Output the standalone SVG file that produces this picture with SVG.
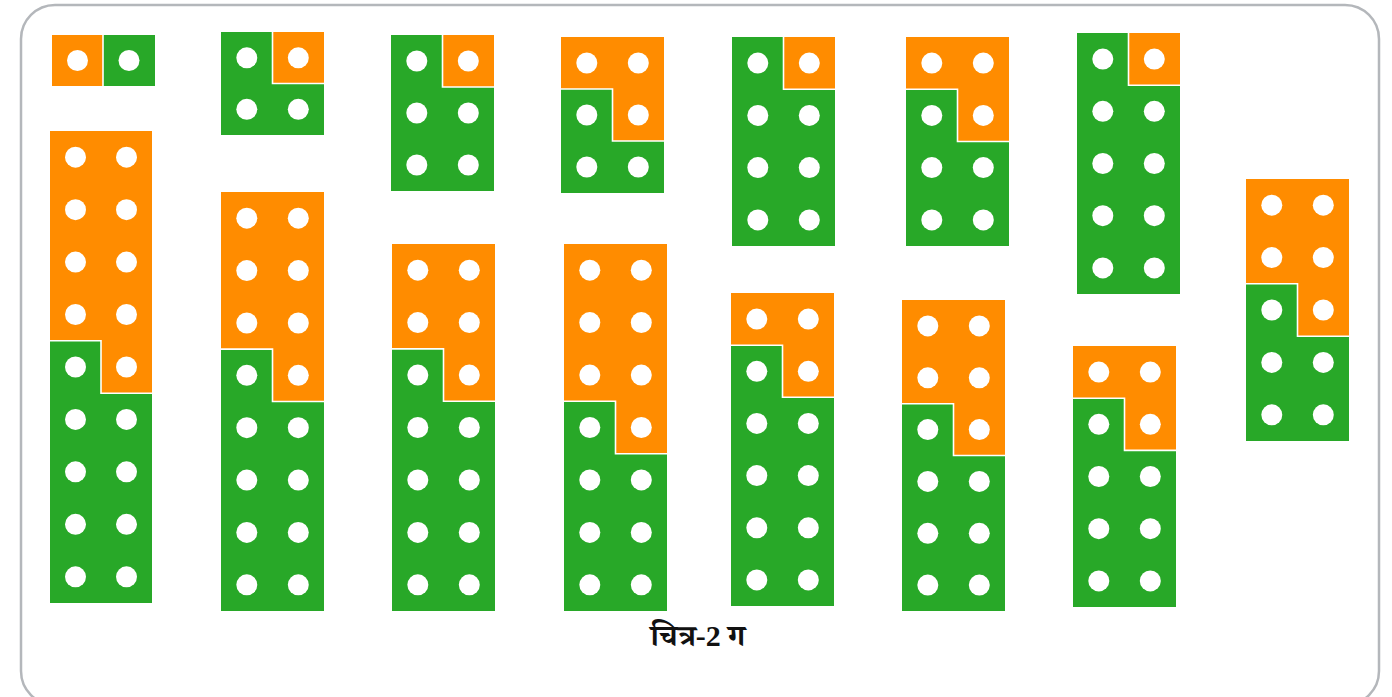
<svg xmlns="http://www.w3.org/2000/svg" width="1392" height="697" viewBox="0 0 1392 697">
<style>
.o{fill:#FF8C00}
.g{fill:#28A828}
.s{fill:none;stroke:#ffffff;stroke-width:1.6}
.d{fill:#ffffff}
.frame{fill:none;stroke:#b4b7bb;stroke-width:2.5}
.cap{font-family:"Liberation Serif","Noto Serif Devanagari","Noto Sans Devanagari","Noto Sans",serif;font-weight:bold;font-size:30px;fill:#111}
.num{font-family:"Liberation Serif",serif}
</style>
<rect width="1392" height="697" fill="#ffffff"/>
<rect class="frame" x="21" y="5" width="1358" height="700" rx="34"/>

<g id="p1">
<rect class="o" x="52" y="35" width="51" height="51"/>
<rect class="g" x="103" y="35" width="52" height="51"/>
<path class="s" d="M103,35 V86"/>
<circle class="d" cx="77.5" cy="60.5" r="10.5"/><circle class="d" cx="129" cy="60.5" r="10.5"/>
</g>

<g id="p2">
<path class="o" d="M272.5,32 H324 V83.5 H272.5Z"/>
<path class="g" d="M221,32 H272.5 V83.5 H324 V135 H221Z"/>
<path class="s" d="M272.5,32 V83.5 H324"/>
<circle class="d" cx="246.8" cy="57.8" r="10.5"/><circle class="d" cx="298.3" cy="57.8" r="10.5"/>
<circle class="d" cx="246.8" cy="109.3" r="10.5"/><circle class="d" cx="298.3" cy="109.3" r="10.5"/>
</g>

<g id="p3">
<path class="o" d="M442.5,35 H494 V87 H442.5Z"/>
<path class="g" d="M391,35 H442.5 V87 H494 V191 H391Z"/>
<path class="s" d="M442.5,35 V87 H494"/>
<circle class="d" cx="416.8" cy="61" r="10.5"/><circle class="d" cx="468.3" cy="61" r="10.5"/>
<circle class="d" cx="416.8" cy="113" r="10.5"/><circle class="d" cx="468.3" cy="113" r="10.5"/>
<circle class="d" cx="416.8" cy="165" r="10.5"/><circle class="d" cx="468.3" cy="165" r="10.5"/>
</g>

<g id="p4">
<path class="o" d="M561,37 H664 V141 H612.5 V89 H561Z"/>
<path class="g" d="M561,89 H612.5 V141 H664 V193 H561Z"/>
<path class="s" d="M561,89 H612.5 V141 H664"/>
<circle class="d" cx="586.8" cy="63" r="10.5"/><circle class="d" cx="638.3" cy="63" r="10.5"/>
<circle class="d" cx="586.8" cy="115" r="10.5"/><circle class="d" cx="638.3" cy="115" r="10.5"/>
<circle class="d" cx="586.8" cy="167" r="10.5"/><circle class="d" cx="638.3" cy="167" r="10.5"/>
</g>

<g id="p5">
<path class="o" d="M783.5,37 H835 V89.3 H783.5Z"/>
<path class="g" d="M732,37 H783.5 V89.3 H835 V246 H732Z"/>
<path class="s" d="M783.5,37 V89.3 H835"/>
<circle class="d" cx="757.8" cy="63.1" r="10.5"/><circle class="d" cx="809.3" cy="63.1" r="10.5"/>
<circle class="d" cx="757.8" cy="115.4" r="10.5"/><circle class="d" cx="809.3" cy="115.4" r="10.5"/>
<circle class="d" cx="757.8" cy="167.6" r="10.5"/><circle class="d" cx="809.3" cy="167.6" r="10.5"/>
<circle class="d" cx="757.8" cy="219.9" r="10.5"/><circle class="d" cx="809.3" cy="219.9" r="10.5"/>
</g>

<g id="p6">
<path class="o" d="M906,37 H1009 V141.5 H957.5 V89.3 H906Z"/>
<path class="g" d="M906,89.3 H957.5 V141.5 H1009 V246 H906Z"/>
<path class="s" d="M906,89.3 H957.5 V141.5 H1009"/>
<circle class="d" cx="931.8" cy="63.1" r="10.5"/><circle class="d" cx="983.3" cy="63.1" r="10.5"/>
<circle class="d" cx="931.8" cy="115.4" r="10.5"/><circle class="d" cx="983.3" cy="115.4" r="10.5"/>
<circle class="d" cx="931.8" cy="167.6" r="10.5"/><circle class="d" cx="983.3" cy="167.6" r="10.5"/>
<circle class="d" cx="931.8" cy="219.9" r="10.5"/><circle class="d" cx="983.3" cy="219.9" r="10.5"/>
</g>

<g id="p7">
<path class="o" d="M1128.5,33 H1180 V85.2 H1128.5Z"/>
<path class="g" d="M1077,33 H1128.5 V85.2 H1180 V294 H1077Z"/>
<path class="s" d="M1128.5,33 V85.2 H1180"/>
<circle class="d" cx="1102.8" cy="59.1" r="10.5"/><circle class="d" cx="1154.3" cy="59.1" r="10.5"/>
<circle class="d" cx="1102.8" cy="111.3" r="10.5"/><circle class="d" cx="1154.3" cy="111.3" r="10.5"/>
<circle class="d" cx="1102.8" cy="163.5" r="10.5"/><circle class="d" cx="1154.3" cy="163.5" r="10.5"/>
<circle class="d" cx="1102.8" cy="215.7" r="10.5"/><circle class="d" cx="1154.3" cy="215.7" r="10.5"/>
<circle class="d" cx="1102.8" cy="267.9" r="10.5"/><circle class="d" cx="1154.3" cy="267.9" r="10.5"/>
</g>

<g id="p8">
<path class="o" d="M1246,179 H1349 V336.2 H1297.5 V283.8 H1246Z"/>
<path class="g" d="M1246,283.8 H1297.5 V336.2 H1349 V441 H1246Z"/>
<path class="s" d="M1246,283.8 H1297.5 V336.2 H1349"/>
<circle class="d" cx="1271.8" cy="205.2" r="10.5"/><circle class="d" cx="1323.3" cy="205.2" r="10.5"/>
<circle class="d" cx="1271.8" cy="257.6" r="10.5"/><circle class="d" cx="1323.3" cy="257.6" r="10.5"/>
<circle class="d" cx="1271.8" cy="310" r="10.5"/><circle class="d" cx="1323.3" cy="310" r="10.5"/>
<circle class="d" cx="1271.8" cy="362.4" r="10.5"/><circle class="d" cx="1323.3" cy="362.4" r="10.5"/>
<circle class="d" cx="1271.8" cy="414.8" r="10.5"/><circle class="d" cx="1323.3" cy="414.8" r="10.5"/>
</g>

<g id="b1">
<path class="o" d="M50,131 H152 V393.2 H101 V340.8 H50Z"/>
<path class="g" d="M50,340.8 H101 V393.2 H152 V603 H50Z"/>
<path class="s" d="M50,340.8 H101 V393.2 H152"/>
<circle class="d" cx="75.5" cy="157.2" r="10.5"/><circle class="d" cx="126.5" cy="157.2" r="10.5"/>
<circle class="d" cx="75.5" cy="209.7" r="10.5"/><circle class="d" cx="126.5" cy="209.7" r="10.5"/>
<circle class="d" cx="75.5" cy="262.1" r="10.5"/><circle class="d" cx="126.5" cy="262.1" r="10.5"/>
<circle class="d" cx="75.5" cy="314.5" r="10.5"/><circle class="d" cx="126.5" cy="314.5" r="10.5"/>
<circle class="d" cx="75.5" cy="367" r="10.5"/><circle class="d" cx="126.5" cy="367" r="10.5"/>
<circle class="d" cx="75.5" cy="419.4" r="10.5"/><circle class="d" cx="126.5" cy="419.4" r="10.5"/>
<circle class="d" cx="75.5" cy="471.8" r="10.5"/><circle class="d" cx="126.5" cy="471.8" r="10.5"/>
<circle class="d" cx="75.5" cy="524.3" r="10.5"/><circle class="d" cx="126.5" cy="524.3" r="10.5"/>
<circle class="d" cx="75.5" cy="576.8" r="10.5"/><circle class="d" cx="126.5" cy="576.8" r="10.5"/>
</g>

<g id="b2">
<path class="o" d="M221,192 H324 V401.5 H272.5 V349.1 H221Z"/>
<path class="g" d="M221,349.1 H272.5 V401.5 H324 V611 H221Z"/>
<path class="s" d="M221,349.1 H272.5 V401.5 H324"/>
<circle class="d" cx="246.8" cy="218.2" r="10.5"/><circle class="d" cx="298.3" cy="218.2" r="10.5"/>
<circle class="d" cx="246.8" cy="270.6" r="10.5"/><circle class="d" cx="298.3" cy="270.6" r="10.5"/>
<circle class="d" cx="246.8" cy="323" r="10.5"/><circle class="d" cx="298.3" cy="323" r="10.5"/>
<circle class="d" cx="246.8" cy="375.3" r="10.5"/><circle class="d" cx="298.3" cy="375.3" r="10.5"/>
<circle class="d" cx="246.8" cy="427.7" r="10.5"/><circle class="d" cx="298.3" cy="427.7" r="10.5"/>
<circle class="d" cx="246.8" cy="480.1" r="10.5"/><circle class="d" cx="298.3" cy="480.1" r="10.5"/>
<circle class="d" cx="246.8" cy="532.4" r="10.5"/><circle class="d" cx="298.3" cy="532.4" r="10.5"/>
<circle class="d" cx="246.8" cy="584.8" r="10.5"/><circle class="d" cx="298.3" cy="584.8" r="10.5"/>
</g>

<g id="b3">
<path class="o" d="M392,244 H495 V401.3 H443.5 V348.9 H392Z"/>
<path class="g" d="M392,348.9 H443.5 V401.3 H495 V611 H392Z"/>
<path class="s" d="M392,348.9 H443.5 V401.3 H495"/>
<circle class="d" cx="417.8" cy="270.2" r="10.5"/><circle class="d" cx="469.3" cy="270.2" r="10.5"/>
<circle class="d" cx="417.8" cy="322.6" r="10.5"/><circle class="d" cx="469.3" cy="322.6" r="10.5"/>
<circle class="d" cx="417.8" cy="375.1" r="10.5"/><circle class="d" cx="469.3" cy="375.1" r="10.5"/>
<circle class="d" cx="417.8" cy="427.5" r="10.5"/><circle class="d" cx="469.3" cy="427.5" r="10.5"/>
<circle class="d" cx="417.8" cy="479.9" r="10.5"/><circle class="d" cx="469.3" cy="479.9" r="10.5"/>
<circle class="d" cx="417.8" cy="532.4" r="10.5"/><circle class="d" cx="469.3" cy="532.4" r="10.5"/>
<circle class="d" cx="417.8" cy="584.8" r="10.5"/><circle class="d" cx="469.3" cy="584.8" r="10.5"/>
</g>

<g id="b4">
<path class="o" d="M564,244 H667 V453.7 H615.5 V401.3 H564Z"/>
<path class="g" d="M564,401.3 H615.5 V453.7 H667 V611 H564Z"/>
<path class="s" d="M564,401.3 H615.5 V453.7 H667"/>
<circle class="d" cx="589.8" cy="270.2" r="10.5"/><circle class="d" cx="641.3" cy="270.2" r="10.5"/>
<circle class="d" cx="589.8" cy="322.6" r="10.5"/><circle class="d" cx="641.3" cy="322.6" r="10.5"/>
<circle class="d" cx="589.8" cy="375.1" r="10.5"/><circle class="d" cx="641.3" cy="375.1" r="10.5"/>
<circle class="d" cx="589.8" cy="427.5" r="10.5"/><circle class="d" cx="641.3" cy="427.5" r="10.5"/>
<circle class="d" cx="589.8" cy="479.9" r="10.5"/><circle class="d" cx="641.3" cy="479.9" r="10.5"/>
<circle class="d" cx="589.8" cy="532.4" r="10.5"/><circle class="d" cx="641.3" cy="532.4" r="10.5"/>
<circle class="d" cx="589.8" cy="584.8" r="10.5"/><circle class="d" cx="641.3" cy="584.8" r="10.5"/>
</g>

<g id="b5">
<path class="o" d="M731,293 H834 V397.3 H782.5 V345.2 H731Z"/>
<path class="g" d="M731,345.2 H782.5 V397.3 H834 V606 H731Z"/>
<path class="s" d="M731,345.2 H782.5 V397.3 H834"/>
<circle class="d" cx="756.8" cy="319.1" r="10.5"/><circle class="d" cx="808.3" cy="319.1" r="10.5"/>
<circle class="d" cx="756.8" cy="371.3" r="10.5"/><circle class="d" cx="808.3" cy="371.3" r="10.5"/>
<circle class="d" cx="756.8" cy="423.4" r="10.5"/><circle class="d" cx="808.3" cy="423.4" r="10.5"/>
<circle class="d" cx="756.8" cy="475.6" r="10.5"/><circle class="d" cx="808.3" cy="475.6" r="10.5"/>
<circle class="d" cx="756.8" cy="527.8" r="10.5"/><circle class="d" cx="808.3" cy="527.8" r="10.5"/>
<circle class="d" cx="756.8" cy="579.9" r="10.5"/><circle class="d" cx="808.3" cy="579.9" r="10.5"/>
</g>

<g id="b6">
<path class="o" d="M902,300 H1005 V455.5 H953.5 V403.7 H902Z"/>
<path class="g" d="M902,403.7 H953.5 V455.5 H1005 V611 H902Z"/>
<path class="s" d="M902,403.7 H953.5 V455.5 H1005"/>
<circle class="d" cx="927.8" cy="325.9" r="10.5"/><circle class="d" cx="979.3" cy="325.9" r="10.5"/>
<circle class="d" cx="927.8" cy="377.8" r="10.5"/><circle class="d" cx="979.3" cy="377.8" r="10.5"/>
<circle class="d" cx="927.8" cy="429.6" r="10.5"/><circle class="d" cx="979.3" cy="429.6" r="10.5"/>
<circle class="d" cx="927.8" cy="481.4" r="10.5"/><circle class="d" cx="979.3" cy="481.4" r="10.5"/>
<circle class="d" cx="927.8" cy="533.3" r="10.5"/><circle class="d" cx="979.3" cy="533.3" r="10.5"/>
<circle class="d" cx="927.8" cy="585.1" r="10.5"/><circle class="d" cx="979.3" cy="585.1" r="10.5"/>
</g>

<g id="b7">
<path class="o" d="M1073,346 H1176 V450.4 H1124.5 V398.2 H1073Z"/>
<path class="g" d="M1073,398.2 H1124.5 V450.4 H1176 V607 H1073Z"/>
<path class="s" d="M1073,398.2 H1124.5 V450.4 H1176"/>
<circle class="d" cx="1098.8" cy="372.1" r="10.5"/><circle class="d" cx="1150.3" cy="372.1" r="10.5"/>
<circle class="d" cx="1098.8" cy="424.3" r="10.5"/><circle class="d" cx="1150.3" cy="424.3" r="10.5"/>
<circle class="d" cx="1098.8" cy="476.5" r="10.5"/><circle class="d" cx="1150.3" cy="476.5" r="10.5"/>
<circle class="d" cx="1098.8" cy="528.7" r="10.5"/><circle class="d" cx="1150.3" cy="528.7" r="10.5"/>
<circle class="d" cx="1098.8" cy="580.9" r="10.5"/><circle class="d" cx="1150.3" cy="580.9" r="10.5"/>
</g>

<g id="connectors"/>

<text id="caption" class="cap" x="698" y="646" text-anchor="middle">चित्र<tspan class="num">-2 </tspan>ग</text>
</svg>
